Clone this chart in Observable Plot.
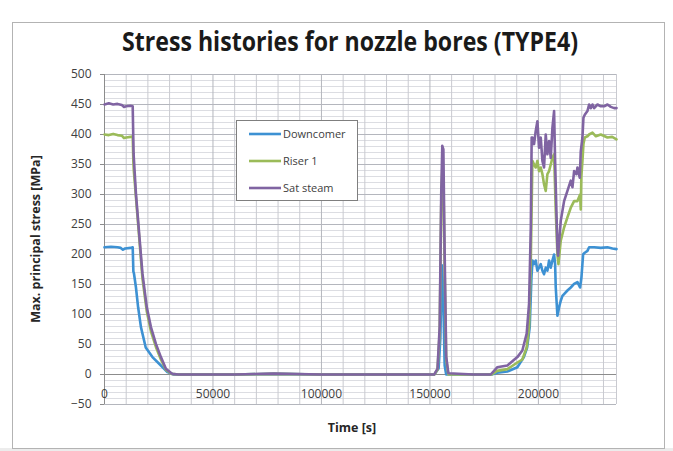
<!DOCTYPE html>
<html>
<head>
<meta charset="utf-8">
<script src="https://cdn.jsdelivr.net/npm/d3@7"></script>
<script src="https://cdn.jsdelivr.net/npm/@observablehq/plot@0.6"></script>
<style>
  html, body { margin: 0; padding: 0; background: #ffffff; }
  #chart { width: 673px; height: 451px; }
</style>
</head>
<body>
<div id="chart"></div>
<script>
// ---- Data ----
const titleText = "Stress histories for nozzle bores (TYPE4)";
const xLabel = "Time [s]";
const yLabel = "Max. principal stress [MPa]";
const seriesNames = ["Downcomer", "Riser 1", "Sat steam"];
const seriesColors = ["#3d91d3", "#9bbb59", "#8064a2"];
const xTicks = [0, 50000, 100000, 150000, 200000];
const yTicks = [-50, 0, 50, 100, 150, 200, 250, 300, 350, 400, 450, 500];

const downcomerT = [0, 3000, 6000, 7500, 8500, 9500, 12000, 13000, 13300, 13600, 14500, 15500, 16800, 19000, 22100, 26000, 29000, 32000,
  60000, 78000, 100000, 130000, 152000, 154000, 154800, 155500, 156000, 156800, 157500, 170000, 178500, 181000, 185700, 190300, 193300,
  194800, 196000, 196800, 197300, 198000, 198770, 199540, 200300, 201080, 201850, 202600, 203380, 204150, 204920, 205690, 206460,
  207230, 207700, 208000, 208460, 208770, 209540, 210300, 211080, 211840, 213380, 214920, 216460, 218000, 219220, 219840, 220610,
  221380, 222600, 223380, 225690, 228760, 231840, 234150, 236000];
const downcomerV = [212, 213, 212, 211, 208, 210, 211, 212, 172, 168, 145, 112, 79, 45, 29, 15, 4, 0,
  0, 1, 0, 0, 0, 10, 60, 182, 150, 15, 0, 0, 0, 3, 5, 12, 29,
  45, 79, 162, 190, 184, 190, 173, 178, 184, 173, 167, 178, 173, 190, 178, 190,
  200, 184, 145, 117, 98, 112, 123, 131, 134, 140, 145, 151, 154, 145, 162, 200,
  203, 206, 212, 212, 211, 212, 210, 209];

const riserT = [0, 2000, 4000, 6000, 8000, 9000, 10000, 12000, 13000, 13300, 13500, 14000, 14500, 16000, 17500, 19500, 21400, 23700,
  26000, 28300, 31000, 34000, 60000, 78000, 100000, 130000, 152000, 153500, 154500, 155200, 155700, 156200, 156800, 157500, 158500,
  170000, 178500, 181000, 185700, 190300, 192600, 194600, 195700, 196500, 197230, 198000, 198770, 199540, 200300, 201080, 201850,
  202600, 203380, 204150, 204920, 205690, 206460, 207230, 208000, 208770, 209230, 210300, 211840, 213380, 214920, 216460, 218000,
  219220, 219530, 219800, 220300, 220760, 221380, 222600, 223380, 224920, 226500, 228760, 231840, 234000, 236000];
const riserV = [400, 399, 401, 399, 398, 394, 395, 396, 397, 355, 340, 318, 295, 228, 160, 105, 72, 46,
  25, 8, 1, 0, 0, 1, 0, 0, 0, 8, 70, 280, 340, 330, 170, 25, 0,
  0, 0, 6, 9, 20, 25, 45, 79, 190, 356, 350, 345, 356, 339, 345, 334,
  317, 306, 334, 339, 350, 361, 367, 273, 200, 184, 223, 245, 262, 278, 289, 289,
  300, 275, 330, 356, 384, 395, 397, 400, 403, 397, 400, 395, 396, 392];

const steamT = [0, 2000, 4000, 6000, 8000, 9000, 10000, 12000, 13000, 13400, 14500, 16000, 17500, 19500, 21400, 23700, 26000, 28300,
  31300, 34000, 60000, 78000, 100000, 130000, 152000, 153500, 154500, 155200, 155700, 156200, 156800, 157500, 158500, 170000,
  178000, 181000, 185700, 190300, 192600, 194600, 195700, 196500, 196900, 197230, 198000, 198770, 199540, 200300, 201080, 201850,
  202600, 203380, 204150, 204920, 205690, 206460, 207230, 207700, 208300, 208770, 209070, 210300, 211840, 213380, 214920, 215690,
  216460, 217530, 218000, 219070, 219530, 220300, 220760, 221380, 222600, 223380, 224150, 224920, 225690, 227230, 228760, 230300,
  231840, 233380, 234910, 236000];
const steamV = [450, 452, 450, 451, 449, 446, 447, 448, 447, 368, 301, 234, 168, 112, 79, 51, 29, 9.5,
  1, 0, 0, 1.5, 0, 0, 0, 10, 80, 300, 381, 375, 200, 30, 2, 0,
  0, 12, 15, 29, 40, 68, 118, 245, 395, 395, 384, 406, 422, 378, 395, 356,
  345, 400, 367, 389, 361, 411, 439, 356, 273, 212, 198, 256, 289, 306, 323, 312,
  339, 334, 345, 328, 372, 395, 428, 433, 439, 450, 444, 450, 444, 450, 447, 447,
  450, 446, 444, 444];

// ---- Build the table the library needs ----
const rows = [];
[[downcomerT, downcomerV], [riserT, riserV], [steamT, steamV]].forEach(([T, V], i) => {
  T.forEach((t, j) => rows.push({series: seriesNames[i], t, v: V[j]}));
});

const xMinor = d3.range(0, 236001, 10000).filter(d => d % 50000 !== 0);
const xMajor = d3.range(0, 236001, 50000);
const yMinor = d3.range(-50, 501, 10).filter(d => d % 50 !== 0);
const yMajor = d3.range(-50, 501, 50);

const W = 673, H = 451;
const font = "'Open Sans', 'DejaVu Sans', sans-serif";

const plot = Plot.plot({
  width: W,
  height: H,
  marginLeft: 104,
  marginRight: 57,
  marginTop: 74,
  marginBottom: 47,
  style: {fontFamily: font, background: "transparent", overflow: "visible"},
  x: {domain: [0, 236000]},
  y: {domain: [-50, 500]},
  color: {domain: seriesNames, range: seriesColors},
  marks: [
    Plot.ruleY(yMinor, {stroke: "#dcdde2", strokeWidth: 1}),
    Plot.ruleX(xMinor, {stroke: "#c9cad0", strokeWidth: 1}),
    Plot.ruleY(yMajor, {stroke: "#b4b6bd", strokeWidth: 1}),
    Plot.ruleX(xMajor, {stroke: "#b4b6bd", strokeWidth: 1}),
    Plot.ruleX([236000], {stroke: "#c9cad0", strokeWidth: 1}),
    Plot.ruleY([0], {stroke: "#8c8c8c", strokeWidth: 1}),
    Plot.ruleX([0], {stroke: "#8c8c8c", strokeWidth: 1}),
    Plot.axisY({ticks: yTicks, anchor: "left", tickSize: 4, tickPadding: 9, fontSize: 12, fill: "#404040", stroke: "#8c8c8c", label: null}),
    Plot.axisX({ticks: [], label: null}),
    Plot.text(xTicks, {x: d => d, y: 0, dy: 20, text: d => String(d), fontSize: 12, fill: "#404040"}),
    Plot.line(rows, {x: "t", y: "v", z: "series", stroke: "series", strokeWidth: 2.6, strokeLinejoin: "round", curve: "linear"})
  ]
});

document.getElementById("chart").appendChild(plot);

// ---- Decorations: frame, title, axis titles, legend ----
const svg = d3.select(plot);
svg.insert("rect", ":first-child")
  .attr("x", 0).attr("y", 0).attr("width", W).attr("height", H).attr("fill", "#ffffff");
svg.insert("rect", ":nth-child(2)")
  .attr("x", 0).attr("y", 448).attr("width", W).attr("height", 3).attr("fill", "#ececec");
svg.append("rect")
  .attr("x", 12.5).attr("y", 22.5).attr("width", 652).attr("height", 426)
  .attr("fill", "none").attr("stroke", "#b3b3b3").attr("stroke-width", 1);

svg.append("text")
  .attr("x", 350).attr("y", 51)
  .attr("text-anchor", "middle")
  .attr("font-family", font).attr("font-weight", "bold").attr("font-size", 26)
  .attr("fill", "#1a1a1a")
  .attr("textLength", 456).attr("lengthAdjust", "spacingAndGlyphs")
  .text(titleText);

svg.append("text")
  .attr("x", 352).attr("y", 432)
  .attr("text-anchor", "middle")
  .attr("font-family", font).attr("font-weight", "bold").attr("font-size", 12.5)
  .attr("fill", "#262626")
  .text(xLabel);

svg.append("text")
  .attr("transform", "translate(40,239) rotate(-90)")
  .attr("text-anchor", "middle")
  .attr("font-family", font).attr("font-weight", "bold").attr("font-size", 12.5)
  .attr("fill", "#262626")
  .text(yLabel);

const lg = svg.append("g").attr("text-anchor", "start");
lg.append("rect").attr("x", 236.5).attr("y", 120.5).attr("width", 121).attr("height", 80)
  .attr("fill", "#ffffff").attr("stroke", "#7f7f7f").attr("stroke-width", 1);
seriesNames.forEach((name, i) => {
  const yy = 134 + i * 27;
  lg.append("line").attr("x1", 249).attr("x2", 281).attr("y1", yy).attr("y2", yy)
    .attr("stroke", seriesColors[i]).attr("stroke-width", 2.6);
  lg.append("text").attr("x", 283).attr("y", yy).attr("dy", "0.35em")
    .attr("text-anchor", "start")
    .attr("font-family", font).attr("font-size", 11).attr("fill", "#404040")
    .text(name);
});
</script>
</body>
</html>
